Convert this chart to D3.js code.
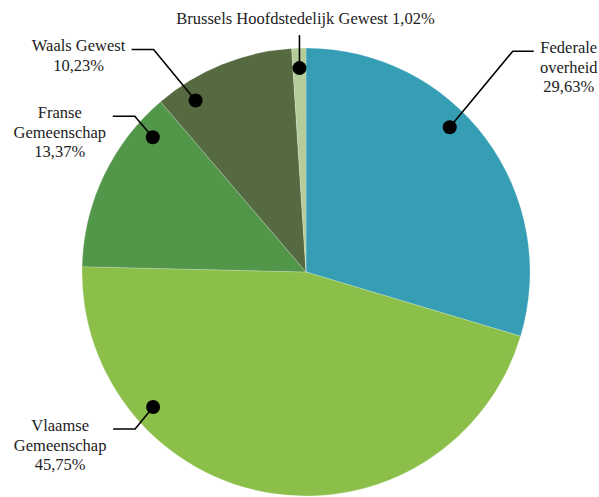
<!DOCTYPE html>
<html>
<head>
<meta charset="utf-8">
<script src="https://cdn.jsdelivr.net/npm/d3@7"></script>
<style>
  body { margin: 0; background: #fff; }
  svg { display: block; }
</style>
</head>
<body>
<svg id="chart" width="599" height="497"></svg>
<script>
// chart data
var categories = ["Federale overheid", "Vlaamse Gemeenschap", "Franse Gemeenschap", "Waals Gewest", "Brussels Hoofdstedelijk Gewest"];
var values = [29.63, 45.75, 13.37, 10.23, 1.02];
var labelLines = [["Federale", "overheid"], ["Vlaamse", "Gemeenschap"], ["Franse", "Gemeenschap"], ["Waals Gewest"], ["Brussels Hoofdstedelijk Gewest"]];
var colors = ["#359eb5", "#8bbf4a", "#52964a", "#556a40", "#b4cc99"];

var width = 599, height = 497;
var cx = 306, cy = 272, radius = 224;

// where the dot sits inside each slice (fraction of the slice angle) and how the leader bends
var callout = [
  { frac: 0.42, dx: 63,  dy: -76, run: 21,  side: "right" },
  { frac: 0.74, dx: -18, dy: 22,  run: -22, side: "left" },
  { frac: 0.83, dx: -18, dy: -21, run: -22, side: "left" },
  { frac: 0.21, dx: -42, dy: -51, run: -22, side: "left" },
  { frac: 0.50, dx: 0,   dy: -33, run: 0,   side: "top" }
];

var nl = d3.formatLocale({ decimal: ",", thousands: ".", grouping: [3], currency: ["", ""] });
var fmt = nl.format(".2f");

var svg = d3.select("#chart");
var g = svg.append("g").attr("transform", "translate(" + cx + "," + cy + ")");

var pie = d3.pie().sort(null).value(function(d) { return d; });
var arcs = pie(values);
var arc = d3.arc().innerRadius(0).outerRadius(radius);

g.selectAll(".slice")
  .data(arcs)
  .enter().append("path")
  .attr("class", "slice")
  .attr("d", arc)
  .attr("fill", function(d, i) { return colors[i]; })
  .attr("stroke", "#fff")
  .attr("stroke-opacity", 0.35)
  .attr("stroke-width", 0.6);

var dotR = 204;
arcs.forEach(function(d, i) {
  var c = callout[i];
  var a = d.startAngle + c.frac * (d.endAngle - d.startAngle);
  var px = dotR * Math.sin(a), py = -dotR * Math.cos(a);
  var ex = px + c.dx, ey = py + c.dy;
  var hx = ex + c.run;

  g.append("polyline")
    .attr("points", [[px, py], [ex, ey], [hx, ey]].map(function(p) { return p.join(","); }).join(" "))
    .attr("fill", "none")
    .attr("stroke", "#000")
    .attr("stroke-width", 1.6);

  g.append("circle")
    .attr("cx", px).attr("cy", py).attr("r", 7)
    .attr("fill", "#000");

  var lines = labelLines[i].slice();
  var pct = fmt(values[i]) + "%";
  if (c.side === "top") lines[0] = lines[0] + " " + pct;
  else lines.push(pct);

  var t = g.append("text")
    .style("font-family", "'Liberation Serif', 'Times New Roman', serif")
    .style("font-size", "16.5px")
    .attr("fill", "#222")
    .attr("text-anchor", "middle");
  if (c.side === "top") {
    t.attr("x", hx + 6).attr("y", ey - 11);
  } else if (c.side === "left") {
    t.attr("x", hx - 53).attr("y", ey + 2);
  } else {
    t.attr("x", hx + 35).attr("y", ey + 2);
  }
  lines.forEach(function(s, j) {
    t.append("tspan")
      .attr("x", t.attr("x"))
      .attr("dy", j === 0 ? 0 : 19.5)
      .text(s);
  });
});
</script>
</body>
</html>
